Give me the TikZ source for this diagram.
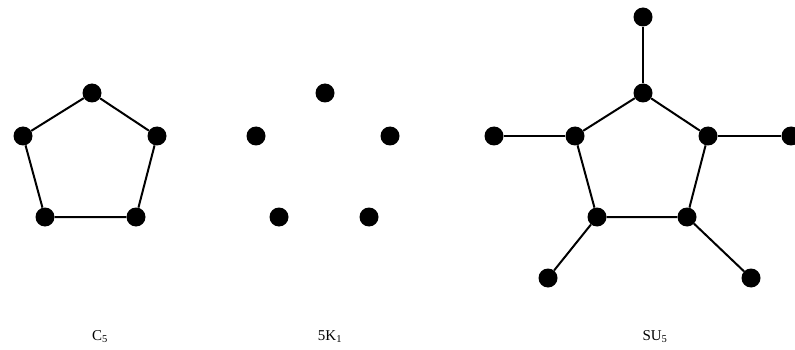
\documentclass[tikz,border=0pt]{standalone}
\usepackage{fontspec}
\setmainfont{Liberation Serif}
\begin{document}
\begin{tikzpicture}[x=1pt,y=-1pt,
  vtx/.style={circle,fill=black,inner sep=0pt,minimum size=19pt},
  edge/.style={line width=2pt,black},
  lbl/.style={font=\fontsize{15}{17}\selectfont,inner sep=0pt}]
\useasboundingbox (0,0) rectangle (795,350);
% C5
\node[vtx] (a1) at (92,93) {};
\node[vtx] (a2) at (23,136) {};
\node[vtx] (a3) at (157,136) {};
\node[vtx] (a4) at (45,217) {};
\node[vtx] (a5) at (136,217) {};
\draw[edge] (a1) -- (a2) -- (a4) -- (a5) -- (a3) -- (a1);
% 5K1
\node[vtx] (b1) at (325,93) {};
\node[vtx] (b2) at (256,136) {};
\node[vtx] (b3) at (390,136) {};
\node[vtx] (b4) at (279,217) {};
\node[vtx] (b5) at (369,217) {};
% SU5
\node[vtx] (c1) at (643,93) {};
\node[vtx] (c2) at (575,136) {};
\node[vtx] (c3) at (708,136) {};
\node[vtx] (c4) at (597,217) {};
\node[vtx] (c5) at (687,217) {};
\node[vtx] (d1) at (643,17) {};
\node[vtx] (d2) at (494,136) {};
\node[vtx] (d3) at (791,136) {};
\node[vtx] (d4) at (548,278) {};
\node[vtx] (d5) at (751,278) {};
\draw[edge] (c1) -- (c2) -- (c4) -- (c5) -- (c3) -- (c1);
\draw[edge] (c1) -- (d1);
\draw[edge] (c2) -- (d2);
\draw[edge] (c3) -- (d3);
\draw[edge] (c4) -- (d4);
\draw[edge] (c5) -- (d5);
% labels
\node[lbl] (l1) at (100,337) {C\textsubscript{5}};
\node[lbl] (l2) at (330,337) {5K\textsubscript{1}};
\node[lbl] (l3) at (655,337) {SU\textsubscript{5}};
\end{tikzpicture}
\end{document}
